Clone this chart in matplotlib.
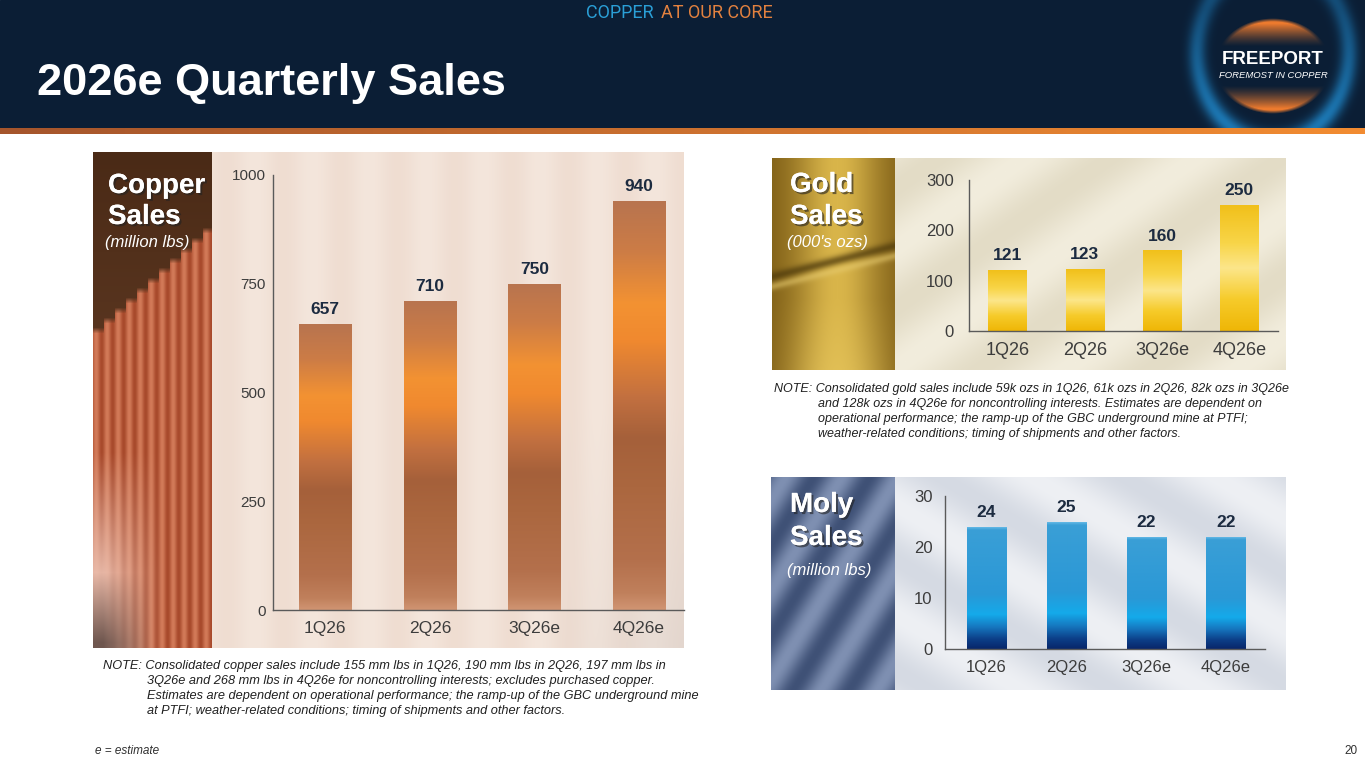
import numpy as np
import matplotlib
matplotlib.use('Agg')
import matplotlib.pyplot as plt
from matplotlib.colors import LinearSegmentedColormap, to_rgb
from matplotlib.patches import Rectangle
import matplotlib.patheffects as pe

W, H = 1365, 768

# chart data
QUARTERS = ['1Q26', '2Q26', '3Q26e', '4Q26e']
COPPER_SALES = [657, 710, 750, 940]
GOLD_SALES = [121, 123, 160, 250]
MOLY_SALES = [24, 25, 22, 22]
COPPER_TICKS = [0, 250, 500, 750, 1000]
GOLD_TICKS = [0, 100, 200, 300]
MOLY_TICKS = [0, 10, 20, 30]

TITLE = '2026e Quarterly Sales'
COPPER_NOTE = [
    'NOTE: Consolidated copper sales include 155 mm lbs in 1Q26, 190 mm lbs in 2Q26, 197 mm lbs in',
    '3Q26e and 268 mm lbs in 4Q26e for noncontrolling interests; excludes purchased copper.',
    'Estimates are dependent on operational performance; the ramp-up of the GBC underground mine',
    'at PTFI; weather-related conditions; timing of shipments and other factors.',
]
GOLD_NOTE = [
    'NOTE: Consolidated gold sales include 59k ozs in 1Q26, 61k ozs in 2Q26, 82k ozs in 3Q26e',
    'and 128k ozs in 4Q26e for noncontrolling interests. Estimates are dependent on',
    'operational performance; the ramp-up of the GBC underground mine at PTFI;',
    'weather-related conditions; timing of shipments and other factors.',
]

NAVY = '#0b1e35'
LABEL_COLOR = '#1c2b40'
TICK_COLOR = '#3c3c3c'

plt.rcParams['font.family'] = ['Liberation Sans', 'DejaVu Sans']


def blend(c0, c1, t):
    c0 = np.array(to_rgb(c0))
    c1 = np.array(to_rgb(c1))
    t = np.clip(t, 0, 1)
    return c0 + (c1 - c0) * t[..., None]


def mix(img, color, t):
    t = np.clip(t, 0, 1)[..., None]
    return img * (1 - t) + np.array(to_rgb(color)) * t


def put_image(ax, img, x0, y0, x1, y1, **kw):
    return ax.imshow(img, extent=[x0, x1, y1, y0], origin='upper',
                     aspect='auto', interpolation='bilinear', **kw)


def px_axes(x0, y0, x1, y1):
    return fig.add_axes([x0 / W, 1 - y1 / H, (x1 - x0) / W, (y1 - y0) / H])


fig = plt.figure(figsize=(W / 100, H / 100), dpi=100)
fig.patch.set_facecolor('white')
bg = fig.add_axes([0, 0, 1, 1])
bg.axis('off')

# header band and orange stripe
bg.add_patch(Rectangle((0, 0), W, 128, color=NAVY, zorder=1))
stripe = blend('#a5552c', '#f28c32', np.tile(np.linspace(0, 1, 400), (4, 1)))
put_image(bg, stripe, 0, 128, W, 134, zorder=2)

bg.text(37, 95, TITLE, color='white', fontsize=32.5, fontweight='bold',
        va='baseline', ha='left', zorder=5)
bg.text(586, 13, 'COPPER', color='#2a9fd6', fontsize=13, family='Roboto',
        va='center', ha='left', zorder=5)
bg.text(661, 13, 'AT OUR CORE', color='#e2813f', fontsize=13, family='Roboto',
        va='center', ha='left', zorder=5)

# logo: soft blue halo, dark disc, orange dome and bowl
gx, gy = np.meshgrid(np.arange(1180, 1365) + 0.5, np.arange(0, 128) + 0.5)
r = np.sqrt(((gx - 1273) / 80) ** 2 + ((gy - 52) / 95) ** 2)
halo = np.exp(-((r - 0.95) / 0.11) ** 2) * (0.45 + 0.4 * np.clip((gy - 10) / 110, 0, 1))
logo = blend(NAVY, '#1f86c8', halo)
dx = (gx - 1273) / 56
dy = (gy - 66) / 46
e = np.sqrt(dx ** 2 + dy ** 2)
inside = np.clip((1.04 - e) / 0.08, 0, 1)
caps = np.clip((np.abs(dy) - 0.42) / 0.5, 0, 1) ** 1.3 * inside
logo = mix(logo, '#ec7a2e', caps)
put_image(bg, logo, 1180, 0, 1365, 128, zorder=2)
bg.text(1273, 60, 'FREEPORT', color='white', fontsize=13.5, fontweight='bold',
        ha='center', va='center', zorder=6)
bg.text(1273, 75, 'FOREMOST IN COPPER', color='white', fontsize=6.8,
        style='italic', ha='center', va='center', zorder=6)

# copper photo strip: dark hall above, staggered cathode plates below
cx, cy = np.meshgrid(np.arange(119), np.arange(496))
plate_top = 175 - (cx // 11) * 10
plate = np.clip((cy - plate_top) / 6, 0, 1)
ridge = 0.5 + 0.5 * np.sin(2 * np.pi * cx / 11)
img = blend('#4a2a16', '#5a3620', np.clip(cy / 200, 0, 1))
cathode = blend('#a84a2c', '#d27a58', ridge)
pale = np.clip((cy - 300) / 120, 0, 1) * np.clip((70 - cx) / 60, 0, 1)
cathode = mix(cathode, '#ecc0b0', pale * 0.9)
low = np.clip((cy - 420) / 70, 0, 1) * np.clip((60 - cx) / 50, 0, 1)
cathode = mix(cathode, '#5a4640', low * 0.85)
img = img * (1 - plate[..., None]) + cathode * plate[..., None]
put_image(bg, img, 93, 152, 212, 648, zorder=2)
# copper pale backdrop
px, py = np.meshgrid(np.arange(472), np.arange(496))
streak = 0.5 + 0.5 * np.sin(2 * np.pi * px / 57)
img = blend('#f4e6dc', '#eedbcf', streak * 0.8)
grey = np.clip((px - 320) / 150, 0, 1) * np.clip((py - 250) / 240, 0, 1) * 0.6
img = mix(img, '#dcd2cc', grey)
put_image(bg, img, 212, 152, 684, 648, zorder=2)

# gold photo strip: stacked bars with lit faces
gx, gy = np.meshgrid(np.arange(123), np.arange(212))
light = np.exp(-((gx - 65) / 45.0) ** 2)
img = blend('#7a5a14', '#d9b54a', light)
edge = np.exp(-((gy - (118 - gx * 0.25)) / 5.0) ** 2)
img = mix(img, '#4e3a0c', edge * 0.7)
shine = np.exp(-((gy - (128 - gx * 0.25)) / 4.0) ** 2)
img = mix(img, '#e8cc70', shine * 0.5)
img = mix(img, '#e8c860', np.clip((gy - 140) / 70, 0, 1) * light * 0.5)
put_image(bg, img, 772, 158, 895, 370, zorder=2)
gx, gy = np.meshgrid(np.arange(391), np.arange(212))
diag = 0.5 + 0.5 * np.sin(2 * np.pi * (gx * 0.7 + gy) / 120)
img = blend('#f2eddd', '#e3dcc6', diag)
put_image(bg, img, 895, 158, 1286, 370, zorder=2)

# moly photo strip
mx, my = np.meshgrid(np.arange(124), np.arange(213))
diag = 0.5 + 0.5 * np.sin(2 * np.pi * (mx * 0.8 + my * 0.5) / 45)
img = blend('#3f5176', '#7f90b2', diag)
put_image(bg, img, 771, 477, 895, 690, zorder=2)
mx, my = np.meshgrid(np.arange(391), np.arange(213))
diag = 0.5 + 0.5 * np.sin(2 * np.pi * (mx * 0.6 - my) / 110)
img = blend('#eef0f4', '#d5dae3', diag)
put_image(bg, img, 895, 477, 1286, 690, zorder=2)

# panel captions
shadow = [pe.withSimplePatchShadow(offset=(1.5, -1.5), shadow_rgbFace='#222222', alpha=0.6), pe.Normal()]
for x, y1, y2, y3, name, unit in [(108, 193, 224, 243, 'Copper', '(million lbs)'),
                                   (790, 192, 224, 242, 'Gold', "(000's ozs)"),
                                   (790, 512, 545, 571, 'Moly', '(million lbs)')]:
    bg.text(x, y1, name, color='white', fontsize=20, fontweight='bold',
            va='baseline', zorder=6, path_effects=shadow)
    bg.text(x, y2, 'Sales', color='white', fontsize=20, fontweight='bold',
            va='baseline', zorder=6, path_effects=shadow)
    bg.text(x - 3, y3, unit, color='white', fontsize=12, style='italic',
            va='center', zorder=6)

# notes and footer
for i, line in enumerate(COPPER_NOTE):
    bg.text(103 if i == 0 else 147, 666 + 15 * i, line, fontsize=9.15, style='italic',
            color='#202020', va='center', zorder=6)
for i, line in enumerate(GOLD_NOTE):
    bg.text(774 if i == 0 else 818, 389 + 15 * i, line, fontsize=9, style='italic',
            color='#202020', va='center', zorder=6)
bg.text(95, 751, 'e = estimate', fontsize=8.5, style='italic', color='#303030', va='center')
bg.text(1358, 751, '20', fontsize=8.5, color='#303030', ha='right', va='center')

bg.set_xlim(0, W)
bg.set_ylim(H, 0)


def gradient_bars(ax, values, stops, width):
    cmap = LinearSegmentedColormap.from_list('bar', stops)
    bars = ax.bar(range(len(values)), values, width=width, color='none', edgecolor='none')
    grad = np.linspace(0, 1, 256)[:, None]
    for b, v in zip(bars, values):
        im = ax.imshow(grad, cmap=cmap, origin='lower', aspect='auto', zorder=2,
                       extent=[b.get_x(), b.get_x() + b.get_width(), 0, b.get_height()])
        im.set_clip_path(b)
        ax.annotate(f'{v}', (b.get_x() + b.get_width() / 2, v), xytext=(0, 5),
                    textcoords='offset points', ha='center', va='bottom',
                    fontsize=12.5, fontweight='bold', color=LABEL_COLOR)
    return bars


def style_axes(ax, ticks, xlim, xsize, ysize, ypad):
    ax.set_facecolor('none')
    ax.set_xlim(*xlim)
    ax.set_ylim(ticks[0], ticks[-1])
    ax.set_yticks(ticks)
    ax.set_xticks(range(len(QUARTERS)), QUARTERS)
    for s in ['top', 'right']:
        ax.spines[s].set_visible(False)
    for s in ['left', 'bottom']:
        ax.spines[s].set_color('#5a5a5a')
        ax.spines[s].set_linewidth(1.0)
    ax.tick_params(axis='x', length=0, labelsize=xsize, colors=TICK_COLOR, pad=8)
    ax.tick_params(axis='y', length=0, labelsize=ysize, colors=TICK_COLOR, pad=ypad)


COPPER_STOPS = [(0.0, '#d09472'), (0.04, '#c0805c'), (0.12, '#b4704c'), (0.3, '#ab673f'),
                (0.42, '#a5603a'), (0.52, '#c27040'), (0.66, '#f0892f'), (0.75, '#f39232'),
                (0.88, '#cc7c46'), (1.0, '#b8744f')]
GOLD_STOPS = [(0.0, '#efb606'), (0.25, '#f6cb2a'), (0.5, '#fce68a'), (0.7, '#f8d548'),
              (1.0, '#f1c01a')]
MOLY_STOPS = [(0.0, '#08266a'), (0.08, '#0c3f88'), (0.18, '#1678c0'), (0.28, '#14aaea'),
              (0.45, '#2a98d6'), (0.97, '#3a9fd6'), (1.0, '#70c0ea')]

ax_cu = px_axes(273, 175, 684, 610)
gradient_bars(ax_cu, COPPER_SALES, COPPER_STOPS, 0.5)
style_axes(ax_cu, COPPER_TICKS, (-0.5, 3.43), 12.5, 11, 5)

ax_au = px_axes(969, 180, 1278, 331)
gradient_bars(ax_au, GOLD_SALES, GOLD_STOPS, 0.5)
style_axes(ax_au, GOLD_TICKS, (-0.5, 3.5), 13, 12, 11)

ax_mo = px_axes(945, 496, 1265, 649)
gradient_bars(ax_mo, MOLY_SALES, MOLY_STOPS, 0.49)
style_axes(ax_mo, MOLY_TICKS, (-0.52, 3.49), 12, 12, 9)

fig.savefig('out.png', dpi=100)
